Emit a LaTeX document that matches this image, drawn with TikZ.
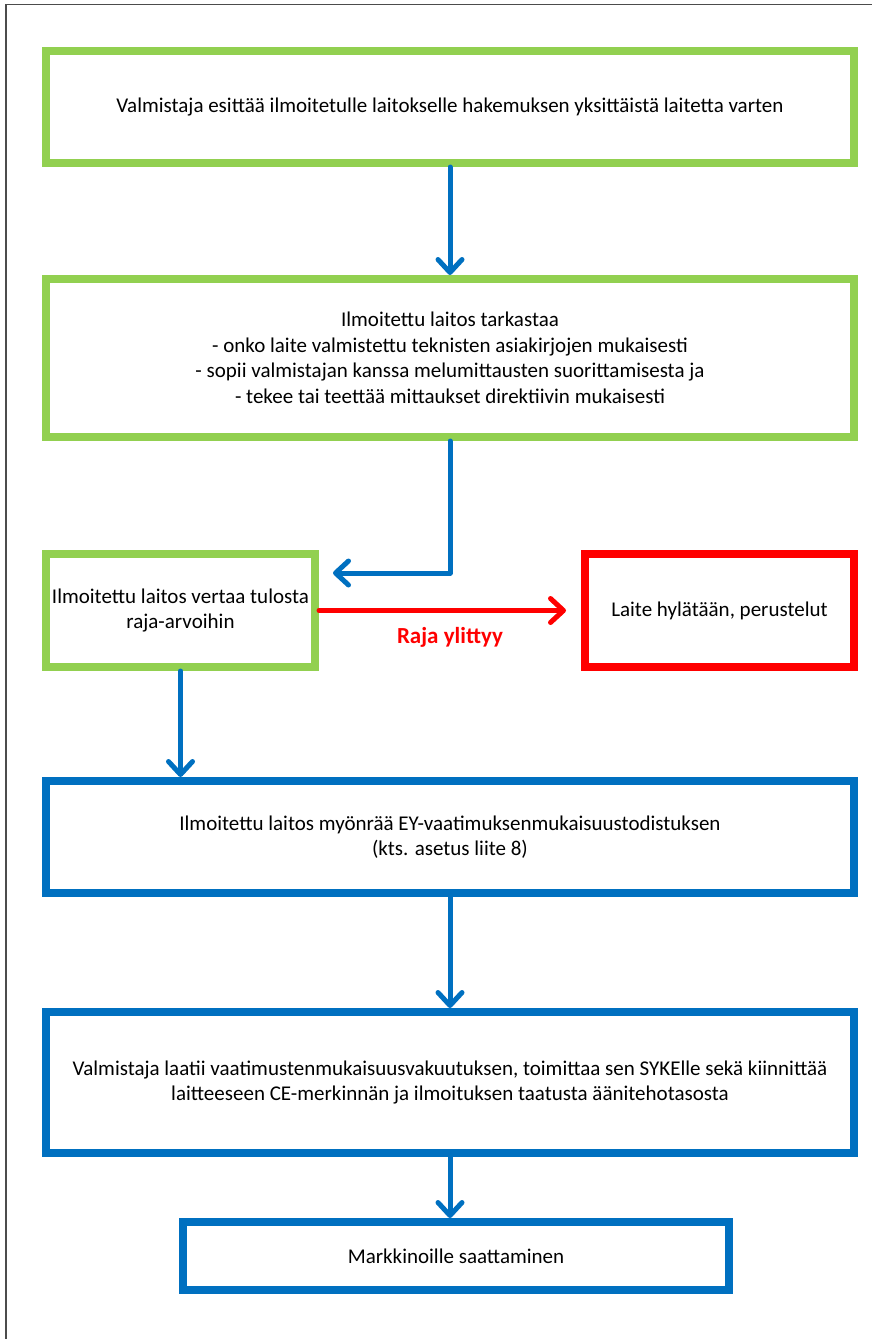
\documentclass[tikz,border=0pt]{standalone}
\usepackage{fontspec}
\setmainfont{Carlito}
\usetikzlibrary{arrows.meta}
\definecolor{vihrea}{RGB}{146,208,80}
\definecolor{sininen}{RGB}{0,112,192}
\definecolor{punainen}{RGB}{255,0,0}
\tikzset{
  laatikko/.style={draw, rectangle, line width=8pt, align=center,
    font=\fontsize{21}{25.5}\selectfont, inner sep=0pt},
  vihrealaatikko/.style={laatikko, draw=vihrea},
  sinilaatikko/.style={laatikko, draw=sininen},
  punalaatikko/.style={laatikko, draw=punainen},
  nuoli/.style={line width=5pt, line cap=round, line join=round,
    -{Straight Barb[length=13pt,width=24pt,line cap=round,line join=round]}},
}
\begin{document}
\begin{tikzpicture}[x=1pt,y=-1pt]
      \useasboundingbox (0,0) rectangle (872,1339);
      \draw[black!70, line width=1.5pt] (6,1339) -- (6,4.5) -- (872,4.5);
      \draw
        (450,107) node[vihrealaatikko, minimum width=808, minimum height=112] (hakemus)
          {Valmistaja esittää ilmoitetulle laitokselle hakemuksen yksittäistä laitetta varten}
        (450,358) node[vihrealaatikko, minimum width=808, minimum height=158] (tarkastus)
          {Ilmoitettu laitos tarkastaa\\
           - onko laite valmistettu teknisten asiakirjojen mukaisesti\\
           - sopii valmistajan kanssa melumittausten suorittamisesta ja\\
           - tekee tai teettää mittaukset direktiivin mukaisesti}
        (180.5,610.5) node[vihrealaatikko, minimum width=269, minimum height=113] (vertailu)
          {Ilmoitettu laitos vertaa tulosta\\raja-arvoihin}
        (719.5,610.5) node[punalaatikko, minimum width=269, minimum height=113] (hylkays)
          {Laite hylätään, perustelut}
        (450,837) node[sinilaatikko, minimum width=808, minimum height=112] (todistus)
          {Ilmoitettu laitos myönrää EY-vaatimuksenmukaisuustodistuksen\\(kts. asetus liite 8)}
        (450,1082.5) node[sinilaatikko, minimum width=808, minimum height=141] (vakuutus)
          {Valmistaja laatii vaatimustenmukaisuusvakuutuksen, toimittaa sen SYKElle sekä kiinnittää\\
           laitteeseen CE-merkinnän ja ilmoituksen taatusta äänitehotasosta}
        (456,1256) node[sinilaatikko, minimum width=546, minimum height=68] (markkinat)
          {Markkinoille saattaminen};
      \coordinate (kulma) at (333,573);
      \begin{scope}[nuoli, draw=sininen]
        \draw (hakemus) to (tarkastus);
        \draw (tarkastus.south) |- (kulma);
        \draw (vertailu.south) to (vertailu.south |- todistus.north);
        \draw (todistus) to (vakuutus);
        \draw (vakuutus.south) to (vakuutus.south |- markkinat.north);
      \end{scope}
      \draw[nuoli, draw=punainen, shorten >=15pt] (vertailu.east) to (hylkays.west);
      \node[text=punainen, font=\fontsize{23}{25}\selectfont\bfseries] (ylitys) at (450,637) {Raja ylittyy};
    \end{tikzpicture}
\end{document}
